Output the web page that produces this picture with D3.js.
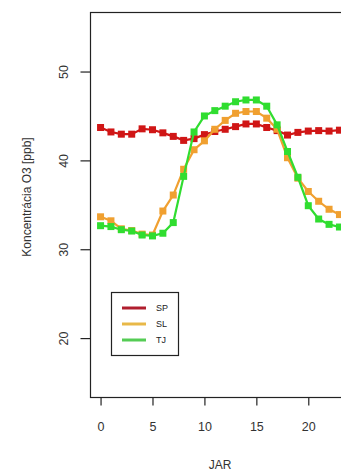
<!DOCTYPE html>
<html>
<head>
<meta charset="utf-8">
<script src="https://cdn.jsdelivr.net/npm/d3@7/dist/d3.min.js"></script>
<style>
  body { margin: 0; background: #fff; }
  svg { display: block; font-family: "Liberation Sans", Arial, sans-serif; }
</style>
</head>
<body>
<svg id="chart"></svg>
<script>
// hours of the day
var hours = d3.range(0, 24);

// O3 concentration [ppb], spring (JAR)
var sp = [43.7, 43.2, 42.95, 42.95, 43.55, 43.45, 43.1, 42.7, 42.25, 42.45, 42.9, 43.25,
          43.5, 43.8, 44.1, 44.1, 43.7, 43.35, 42.85, 43.15, 43.3, 43.35, 43.3, 43.4];
var sl = [33.65, 33.2, 32.3, 32.1, 31.7, 31.6, 34.3, 36.1, 39.0, 41.2, 42.2, 43.5,
          44.5, 45.3, 45.5, 45.5, 44.75, 43.5, 40.3, 38.0, 36.5, 35.4, 34.5, 33.9];
var tj = [32.65, 32.55, 32.2, 32.05, 31.6, 31.5, 31.8, 33.0, 38.2, 43.2, 45.0, 45.6,
          46.1, 46.6, 46.8, 46.8, 46.1, 44.0, 41.0, 38.1, 34.9, 33.4, 32.8, 32.5];

var seriesNames = ["SP", "SL", "TJ"];
var seriesColors = ["#d01616", "#f0a030", "#30dd30"];
var legendColors = ["#b01e2e", "#e8b848", "#55cc55"];

var xTicks = [0, 5, 10, 15, 20];
var yTicks = [20, 30, 40, 50];

var W = 341, H = 472;
// plot region (frame runs past the right edge, as in the cropped original)
var plotL = 90, plotT = 12, plotR = 349, plotB = 397;

var svg = d3.select("#chart").attr("width", W).attr("height", H);

var x = d3.scaleLinear().domain([-0.92, 23.92]).range([plotL + 1, plotR]);
var y = d3.scaleLinear().domain([13.37, 56.7]).range([plotB, plotT]);

// frame
svg.append("rect")
    .attr("x", plotL + 0.5).attr("y", plotT + 0.5)
    .attr("width", plotR - plotL).attr("height", plotB - plotT)
    .attr("fill", "none").attr("stroke", "#222").attr("stroke-width", 1.2);

// x axis
var xAxis = svg.append("g")
    .attr("transform", "translate(0," + (plotB + 0.5) + ")")
    .call(d3.axisBottom(x).tickValues(xTicks).tickSize(8).tickPadding(17).tickFormat(d3.format("d")));
xAxis.select(".domain").remove();
xAxis.selectAll("line").attr("stroke", "#222").attr("stroke-width", 1.2);
xAxis.selectAll("text").attr("font-size", 12.5).attr("fill", "#333")
    .attr("font-family", "Liberation Sans, Arial, sans-serif");

// y axis, labels parallel to the axis
var yAxis = svg.append("g")
    .attr("transform", "translate(" + (plotL + 0.5) + ",0)")
    .call(d3.axisLeft(y).tickValues(yTicks).tickSize(10).tickFormat(d3.format("d")));
yAxis.select(".domain").remove();
yAxis.selectAll("line").attr("stroke", "#222").attr("stroke-width", 1.2);
yAxis.selectAll("text")
    .attr("font-size", 12.5).attr("fill", "#333")
    .attr("font-family", "Liberation Sans, Arial, sans-serif")
    .attr("text-anchor", "middle").attr("dy", null)
    .attr("x", null)
    .attr("transform", "translate(-27,0) rotate(-90)")
    .attr("dominant-baseline", "central");

// axis titles
svg.append("text")
    .attr("x", 220).attr("y", 469)
    .attr("text-anchor", "middle").attr("font-size", 12).attr("fill", "#333")
    .text("JAR");
svg.append("text")
    .attr("transform", "translate(31,197) rotate(-90)")
    .attr("text-anchor", "middle").attr("font-size", 12).attr("fill", "#333")
    .text("Koncentrácia O3 [ppb]");

// series
var allSeries = [sp, sl, tj];
var line = d3.line()
    .x(function(d, i) { return x(hours[i]); })
    .y(function(d) { return y(d); });

var plot = svg.append("g");
allSeries.forEach(function(vals, k) {
  plot.append("path")
      .datum(vals)
      .attr("d", line)
      .attr("fill", "none")
      .attr("stroke", seriesColors[k])
      .attr("stroke-width", 2.2);
  plot.selectAll(".pt" + k)
      .data(vals)
    .enter().append("rect")
      .attr("class", "pt" + k)
      .attr("x", function(d, i) { return x(hours[i]) - 3.5; })
      .attr("y", function(d) { return y(d) - 3.5; })
      .attr("width", 7).attr("height", 7)
      .attr("fill", seriesColors[k]);
});

// legend
var lg = svg.append("g");
lg.append("rect")
    .attr("x", 111.5).attr("y", 292.5).attr("width", 67).attr("height", 63)
    .attr("fill", "#fff").attr("stroke", "#222").attr("stroke-width", 1.2);
seriesNames.forEach(function(name, k) {
  var ly = 308 + k * 16;
  lg.append("line")
      .attr("x1", 122).attr("x2", 146).attr("y1", ly).attr("y2", ly)
      .attr("stroke", legendColors[k]).attr("stroke-width", 3);
  lg.append("text")
      .attr("x", 156).attr("y", ly).attr("dy", "0.35em")
      .attr("font-size", 9).attr("fill", "#222")
      .text(name);
});
</script>
</body>
</html>
